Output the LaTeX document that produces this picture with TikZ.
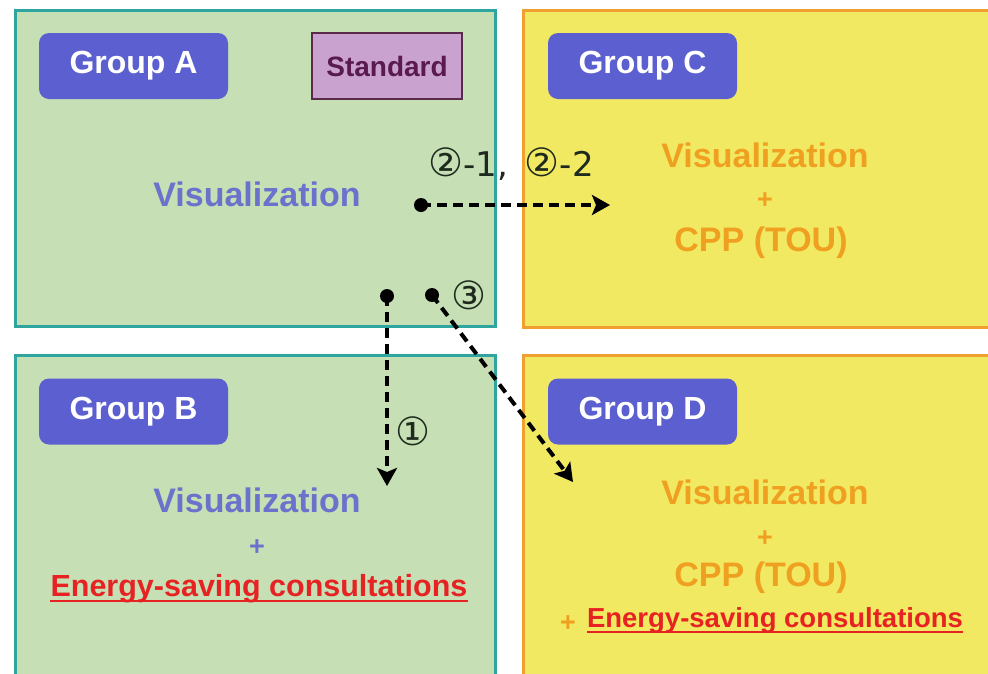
\documentclass[tikz,border=0pt]{standalone}
\usepackage{fontspec}
\setmainfont{Liberation Sans}
\newfontfamily\symfont{DejaVu Sans}
\usetikzlibrary{arrows.meta}
\definecolor{gfill}{HTML}{C6DFB4}
\definecolor{gline}{HTML}{2EA59E}
\definecolor{yfill}{HTML}{F2E962}
\definecolor{yline}{HTML}{F0A030}
\definecolor{badgec}{HTML}{5B5FD0}
\definecolor{vizblue}{HTML}{6A72CC}
\definecolor{orangetxt}{HTML}{F0A020}
\definecolor{redtxt}{HTML}{E62222}
\definecolor{stdfill}{HTML}{C9A2CF}
\definecolor{stdline}{HTML}{5A2A4A}
\definecolor{stdtxt}{HTML}{5A1A50}
\definecolor{lblcol}{HTML}{1E2A1E}
\newcommand{\cnum}[1]{{\fontsize{39}{42}\selectfont #1}}
\tikzset{
  panel/.style={draw, line width=3pt, inner sep=0pt, outer sep=0pt},
  greenpanel/.style={panel, draw=gline, fill=gfill},
  yellowpanel/.style={panel, draw=yline, fill=yfill},
  badge/.style={fill=badgec, rounded corners=10pt, minimum width=189pt, minimum height=66pt,
    inner sep=0pt, text=white, font=\bfseries\fontsize{32}{38}\selectfont},
  stdbox/.style={fill=stdfill, draw=stdline, line width=1.5pt, minimum width=150pt, minimum height=66pt,
    inner sep=0pt, text=stdtxt, font=\bfseries\fontsize{28}{34}\selectfont},
  bigtxt/.style={anchor=base, inner sep=0pt, font=\bfseries\fontsize{34}{40}\selectfont},
  midtxt/.style={anchor=base, inner sep=0pt, font=\bfseries\fontsize{30.5}{36}\selectfont},
  plustxt/.style={inner sep=0pt, font=\bfseries\fontsize{27}{30}\selectfont},
  lbl/.style={inner sep=0pt, text=lblcol, font=\symfont\fontsize{34}{38}\selectfont},
  startdot/.style={circle, fill=black, minimum size=14pt, inner sep=0pt},
  flow/.style={line width=4pt, dash pattern=on 10pt off 6pt, -{Stealth[length=18pt,width=20pt,inset=4pt]}}
}
\begin{document}
\begin{tikzpicture}[x=1pt,y=-1pt]
\clip (0,0) rectangle (988,673);
\fill[white] (0,0) rectangle (988,673);
% panels
\node[greenpanel, minimum width=480pt, minimum height=316pt] (A) at (255,168) {};
\node[yellowpanel, minimum width=487pt, minimum height=317pt] (C) at (766.5,168.5) {};
\node[greenpanel, minimum width=480pt, minimum height=345pt] (B) at (255,527.5) {};
\node[yellowpanel, minimum width=487pt, minimum height=345pt] (D) at (766.5,527.5) {};
% badges
\node[badge] (ga) at (133.5,66) {Group A};
\node[stdbox] (std) at (387,66) {Standard};
\node[badge] (gc) at (642.5,66) {Group C};
\node[badge] (gb) at (133.5,411.5) {Group B};
\node[badge] (gd) at (642.5,411.5) {Group D};
% Group A text
\node[bigtxt, text=vizblue] (va) at (257,206) {Visualization};
% Group C text
\node[bigtxt, text=orangetxt] (vc) at (765,167) {Visualization};
\node[plustxt, text=orangetxt] (pc) at (765,201) {+};
\node[bigtxt, text=orangetxt] (cppc) at (761,251) {CPP (TOU)};
% Group B text
\node[bigtxt, text=vizblue] (vb) at (257,512) {Visualization};
\node[plustxt, text=vizblue] (pb) at (257,548) {+};
\node[midtxt, text=redtxt] (eb) at (259,596) {Energy-saving consultations};
\draw[redtxt, line width=1.6pt] ([yshift=-5pt]eb.base west) -- ([yshift=-5pt]eb.base east);
% Group D text
\node[bigtxt, text=orangetxt] (vd) at (765,504) {Visualization};
\node[plustxt, text=orangetxt] (pd) at (765,539) {+};
\node[bigtxt, text=orangetxt] (cppd) at (761,586) {CPP (TOU)};
\node[plustxt, text=orangetxt] (pd2) at (568,624) {+};
\node[midtxt, text=redtxt, font=\bfseries\fontsize{27.5}{33}\selectfont] (ed) at (775,627) {Energy-saving consultations};
\draw[redtxt, line width=1.5pt] ([yshift=-5pt]ed.base west) -- ([yshift=-5pt]ed.base east);
% connectors
\node[startdot] (s2) at (421,205) {};
\coordinate (e2) at (610,205);
\draw[flow] (s2.center) -- (e2);
\node[lbl] (l2) at (511,164) {\cnum{②}-1,\hspace{0.5em}\cnum{②}-2};
\node[startdot] (s1) at (387,296) {};
\coordinate (e1) at (387,486);
\draw[flow] (s1.center) -- (e1);
\node[lbl] (l1) at (413,431) {\cnum{①}};
\node[startdot] (s3) at (432,295) {};
\coordinate (e3) at (573,482);
\draw[flow] (s3.center) -- (e3);
\node[lbl] (l3) at (469,295) {\cnum{③}};
\end{tikzpicture}
\end{document}
